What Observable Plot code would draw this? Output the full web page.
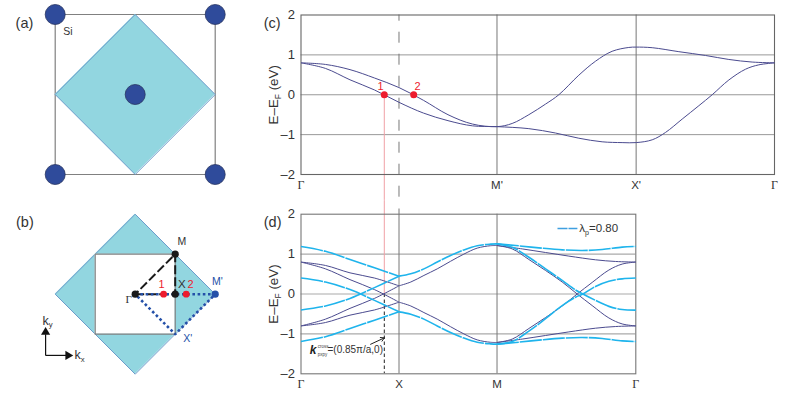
<!DOCTYPE html>
<html>
<head>
<meta charset="utf-8">
<script src="https://cdn.jsdelivr.net/npm/d3@7"></script>
<script src="https://cdn.jsdelivr.net/npm/@observablehq/plot@0.6"></script>
<style>
body{margin:0;background:#fff}
#root{position:relative;width:797px;height:399px;overflow:hidden}
#root svg{position:absolute}
</style>
</head>
<body>
<div id="root"></div>
<script>
const FONT = "Liberation Sans";
const PURPLE = "#4b4b8f", CYAN = "#1fb4ec", RED = "#ed1c2e", TEAL = "#92d6e0", NAVY = "#2f4b9b", EDGE = "#6c9ccb", GRAY = "#808080";

// (a), (b) lattice geometry, in lattice units
const cellX = [-2, 2, 2, -2, -2];
const cellY = [2, 2, -2, -2, 2];
const diamondX = [0, 2, 0, -2, 0];
const diamondY = [2, 0, -2, 0, 2];
const diamondSpanX = [-2, 0, 2];
const atomX = [-2, 2, -2, 2, 0];
const atomY = [2, 2, -2, -2, 0];
const innerX = [-1, 1, 1, -1, -1];
const innerY = [1, 1, -1, -1, 1];
const pathBlackX = [0, 1, 1, 0];
const pathBlackY = [0, 0, 1, 0];
const pathBlueX = [0, 2, 1, 0];
const pathBlueY = [0, 0, -1, 0];
const symX = [0, 1, 1];
const symY = [0, 0, 1];
const redDotX = [0.71, 1.275];

// (c) band values along Γ–M'–X'–Γ
const cTicks = [0, 2, 3.42, 4.832];
const cLabels = ["Γ", "M'", "X'", "Γ"];
const cUpperK = [0, .25, .5, .75, 1, 1.25, 1.5, 1.75, 2, 2.155, 2.325, 2.495, 2.631, 2.835, 3.005, 3.175, 3.345, 3.42, 3.584, 3.856, 4.128, 4.366, 4.604, 4.832];
const cUpperE = [.8, .76, .63, .42, .18, -.14, -.5, -.735, -.8, -.72, -.5, -.235, 0, .49, .84, 1.09, 1.186, 1.195, 1.18, 1.08, .985, .885, .82, .8];
const cLowerK = [0, .25, .5, .75, 1, 1.25, 1.5, 1.75, 2, 2.325, 2.597, 2.835, 3.073, 3.277, 3.42, 3.584, 3.72, 3.89, 4.06, 4.196, 4.366, 4.536, 4.672, 4.832];
const cLowerE = [.8, .66, .375, .12, -.19, -.46, -.65, -.78, -.8, -.85, -.96, -1.09, -1.18, -1.2, -1.2, -1.13, -.945, -.61, -.275, 0, .37, .64, .75, .8];

// (d) band values along Γ–X–M–Γ
const dTicks = [0, 1, 2, 3.416];
const dLabels = ["Γ", "X", "M", "Γ"];
const kGX = [0, .25, .5, .75, 1];
const p1GX = [.8, .715, .53, .4, .205];
const p2GX = [.8, .63, .36, .11, -.205];
const p3GX = [-.8, -.63, -.36, -.11, .205];
const p4GX = [-.8, -.715, -.53, -.4, -.205];
const b1GX = [1.19, 1.07, .865, .655, .447];
const b2GX = [.4, .3, .11, -.16, -.447];
const b3GX = [-.4, -.3, -.11, .16, .447];
const b4GX = [-1.19, -1.07, -.865, -.655, -.447];
const kXM = [1, 1.12, 1.254, 1.39, 1.526, 1.662, 1.798, 1.934, 2];
const pUpXM = [.205, .3, .465, .63, .82, 1, 1.15, 1.21, 1.215];
const pDnXM = [-.205, -.3, -.465, -.63, -.82, -1, -1.15, -1.21, -1.215];
const bUpXM = [.447, .505, .63, .8, .965, 1.105, 1.21, 1.25, 1.257];
const bDnXM = [-.447, -.505, -.63, -.8, -.965, -1.105, -1.21, -1.25, -1.257];
const kMGp = [2, 2.257, 2.495, 2.733, 3.005, 3.21, 3.416];
const pTopMG = [1.215, 1.13, 1.04, .95, .857, .815, .8];
const pBotMG = [-1.215, -1.13, -1.04, -.95, -.857, -.815, -.8];
const kMGd = [2, 2.155, 2.325, 2.495, 2.665, 2.818, 2.971, 3.141, 3.277, 3.416];
const pDescMG = [1.215, 1.13, .865, .59, .3, 0, -.29, -.6, -.75, -.8];
const pAscMG = [-1.215, -1.13, -.865, -.59, -.3, 0, .29, .6, .75, .8];
const kMGb = [2, 2.19, 2.427, 2.665, 2.869, 3.073, 3.277, 3.416];
const bTopMG = [1.257, 1.215, 1.157, 1.107, 1.09, 1.115, 1.175, 1.19];
const bBotMG = [-1.257, -1.215, -1.157, -1.107, -1.09, -1.115, -1.175, -1.19];
const kMGc = [2, 2.155, 2.325, 2.495, 2.665, 2.801, 2.876, 3.005, 3.141, 3.277, 3.416];
const bDescMG = [1.257, 1.17, .92, .63, .34, .1, 0, -.16, -.31, -.39, -.405];
const bAscMG = [-1.257, -1.19, -.93, -.62, -.29, -.08, 0, .19, .32, .38, .4];

const zip = (xs, ys) => xs.map((x, i) => ({x, y: ys[i]}));
const band = (xs, ys, o) => Plot.line(zip(xs, ys), {x: "x", y: "y", curve: "catmull-rom", strokeLinecap: "butt", ...o});
const label = (x, y, text, o = {}) => Plot.text([{x, y, text}], {x: "x", y: "y", text: "text", textAnchor: "start", fontSize: 11.5, ...o});
const poly = (xs, ys, o) => Plot.line(zip(xs, ys), {x: "x", y: "y", curve: "linear", strokeLinecap: "butt", ...o});

// turn k_{x} into real sub-scripted tspans
function subs(svg) {
  svg.querySelectorAll("text").forEach(t => {
    const s = t.textContent;
    if (!s.includes("_{")) return;
    const parts = s.split(/(_\{[^}]*\})/);
    t.textContent = "";
    let after = false;
    parts.forEach(p => {
      const m = p.match(/^_\{(.*)\}$/);
      const span = document.createElementNS("http://www.w3.org/2000/svg", "tspan");
      if (m) {
        span.textContent = m[1];
        span.setAttribute("font-size", "0.62em");
        span.setAttribute("dy", "0.35em");
        t.appendChild(span);
        after = true;
      } else if (p) {
        span.textContent = p;
        if (after) span.setAttribute("dy", "-0.22em");
        t.appendChild(span);
      }
    });
  });
}

function place(plot, left, top) {
  plot.style.left = left + "px";
  plot.style.top = top + "px";
  subs(plot);
  document.getElementById("root").appendChild(plot);
}

const style = {background: "transparent", overflow: "visible", fontFamily: FONT};
const latticeBase = {
  width: 260, height: 200, margin: 0, style,
  x: {axis: null, domain: [-134.7 / 40, 125.3 / 40]}
};
const diamondFill = Plot.areaY(zip(diamondSpanX, [0, 0, 0]), {x: "x", y1: d => 2 - Math.abs(d.x), y2: d => Math.abs(d.x) - 2, fill: TEAL});

// (a)
place(Plot.plot({
  ...latticeBase,
  y: {axis: null, domain: [-106 / 40, 94 / 40]},
  marks: [
    poly(cellX, cellY, {stroke: GRAY, strokeWidth: 1.2}),
    diamondFill,
    poly(diamondX, diamondY, {stroke: EDGE, strokeWidth: 1}),
    Plot.dot(zip(atomX, atomY), {x: "x", y: "y", r: 10, fill: NAVY, stroke: "#27345f", strokeWidth: 0.8}),
    label(-1.8, 1.56, "Si", {fontSize: 10.5, fill: "#333"}),
    label(-2.99, 1.78, "(a)", {fontSize: 14.5, fill: "#333"})
  ]
}), 0, 0);

// (b)
place(Plot.plot({
  ...latticeBase,
  y: {axis: null, domain: [-106.3 / 40, 93.7 / 40]},
  marks: [
    diamondFill,
    poly(diamondX, diamondY, {stroke: EDGE, strokeWidth: 1}),
    Plot.areaY(zip([-1, 1], [0, 0]), {x: "x", y1: () => 1, y2: () => -1, fill: "white"}),
    poly(innerX, innerY, {stroke: GRAY, strokeWidth: 1.2}),
    poly(pathBlackX, pathBlackY, {stroke: "#1a1a1a", strokeWidth: 2, strokeDasharray: "9 3"}),
    poly(pathBlueX, pathBlueY, {stroke: "#2450a8", strokeWidth: 2.6, strokeDasharray: "2.6 2.6"}),
    Plot.dot(zip(symX, symY), {x: "x", y: "y", r: 3.6, fill: "#1a1a1a"}),
    Plot.dot(zip([2], [0]), {x: "x", y: "y", r: 3.6, fill: "#2450a8"}),
    Plot.dot(zip(redDotX, [0, 0]), {x: "x", y: "y", r: 3.4, fill: RED}),
    label(1.06, 1.32, "M", {fontSize: 10.5, fill: "#333"}),
    label(1.07, .235, "X", {fontSize: 11.5, fill: "#333"}),
    label(.58, .24, "1", {fontSize: 11, fill: RED}),
    label(1.31, .24, "2", {fontSize: 11, fill: RED}),
    label(1.92, .325, "M'", {fontSize: 10.5, fill: "#2450a8"}),
    label(1.2, -1.115, "X'", {fontSize: 10.5, fill: "#2450a8"}),
    label(-.24, -.14, "Γ", {fontSize: 11, fill: "#333", fontFamily: "Liberation Serif"}),
    poly([-2.24, -2.24], [-1.53, -1], {stroke: "#111", strokeWidth: 1.2}),
    poly([-2.24, -1.72], [-1.53, -1.53], {stroke: "#111", strokeWidth: 1.2}),
    Plot.dot([{x: -2.24, y: -.95}], {x: "x", y: "y", symbol: "triangle", r: 3.4, fill: "#111"}),
    Plot.dot([{x: -1.68, y: -1.53}], {x: "x", y: "y", symbol: "triangle", r: 3.4, fill: "#111", rotate: 90}),
    label(-2.32, -.66, "k_{y}", {fontSize: 12.5, fill: "#333"}),
    label(-1.52, -1.53, "k_{x}", {fontSize: 12.5, fill: "#333"}),
    label(-2.98, 1.8, "(b)", {fontSize: 14.5, fill: "#333"})
  ]
}), 0, 200);

function bandAxes(ticks, labels, end, name) {
  const text = new Map(ticks.map((t, i) => [t, labels[i]]));
  return [
    Plot.axisY({ticks: [-2, -1, 0, 1, 2], tickSize: 0, tickPadding: 6, fontSize: 13, label: null, tickFormat: d => d < 0 ? "–" + (-d) : d, fill: "#333"}),
    Plot.axisX({ticks: ticks.filter(t => text.get(t) !== "Γ"), tickSize: 0, tickPadding: 6, fontSize: 11.5, label: null, tickFormat: t => text.get(t), fill: "#333"}),
    Plot.axisX({ticks: [ticks[0], end], tickSize: 0, tickPadding: 6, fontSize: 12, label: null, tickFormat: t => "Γ", fill: "#333", fontFamily: "Liberation Serif"}),
    label(-.28, 0, "E–E_{F} (eV)", {fontSize: 13.4, rotate: -90, textAnchor: "middle", fill: "#333"}),
    label(-.38, 1.8, name, {fontSize: 14.5, fill: "#333"})
  ];
}

// (c)
place(Plot.plot({
  width: 537, height: 200, marginLeft: 40.5, marginRight: 23, marginTop: 14.5, marginBottom: 26, style,
  x: {domain: [0, 4.832]},
  y: {domain: [-2, 2]},
  marks: [
    Plot.ruleY([-1, 0, 1], {stroke: "#999", strokeWidth: 1}),
    Plot.ruleX([2, 3.42], {stroke: "#777", strokeWidth: 1}),
    Plot.ruleX([1], {y1: 2, y2: -2.6, stroke: "#777", strokeWidth: 1, strokeDasharray: "11 11", strokeDashoffset: 4.8}),
    Plot.ruleX([.85], {y1: 0, y2: -2.65, stroke: "#f0a0a5", strokeWidth: 1}),
    Plot.frame({stroke: "#666", strokeWidth: 1.1}),
    band(cUpperK, cUpperE, {stroke: PURPLE, strokeWidth: 1}),
    band(cLowerK, cLowerE, {stroke: PURPLE, strokeWidth: 1}),
    Plot.dot(zip([.85, 1.15], [0, 0]), {x: "x", y: "y", r: 3.5, fill: RED}),
    label(.78, .21, "1", {fontSize: 11, fill: RED}),
    label(1.158, .21, "2", {fontSize: 11, fill: RED}),
    ...bandAxes(cTicks, cLabels, 4.832, "(c)")
  ]
}), 260, 0);

// (d)
const solid = {stroke: PURPLE, strokeWidth: 1};
const cyan = {stroke: CYAN, strokeWidth: 1.6, strokeDasharray: "22 1"};
place(Plot.plot({
  width: 537, height: 199, marginLeft: 40.5, marginRight: 161.7, marginTop: 13.7, marginBottom: 25.7, style,
  x: {domain: [0, 3.416]},
  y: {domain: [-2, 2]},
  marks: [
    Plot.ruleY([-1, 0, 1], {stroke: "#aaa", strokeWidth: 1.2}),
    Plot.ruleX([2], {stroke: "#777", strokeWidth: 1}),
    Plot.ruleX([1], {y1: 2.13, y2: -2, stroke: "#777", strokeWidth: 1}),
    Plot.ruleX([.85], {y1: 2.34, y2: 0, stroke: "#f0a0a5", strokeWidth: 1}),
    Plot.ruleX([.85], {y1: 0, y2: -2, stroke: "#222", strokeWidth: 1, strokeDasharray: "3.5 2.5"}),
    Plot.frame({stroke: "#777", strokeWidth: 1.1}),
    band(kGX, p1GX, solid), band(kGX, p2GX, solid), band(kGX, p3GX, solid), band(kGX, p4GX, solid),
    band(kXM, pUpXM, solid), band(kXM, pDnXM, solid),
    band(kMGp, pTopMG, solid), band(kMGp, pBotMG, solid),
    band(kMGd, pDescMG, solid), band(kMGd, pAscMG, solid),
    band(kGX, b1GX, cyan), band(kGX, b2GX, cyan), band(kGX, b3GX, cyan), band(kGX, b4GX, cyan),
    band(kXM, bUpXM, cyan), band(kXM, bDnXM, cyan),
    band(kMGb, bTopMG, cyan), band(kMGb, bBotMG, cyan),
    band(kMGc, bDescMG, cyan), band(kMGc, bAscMG, cyan),
    Plot.arrow([{x1: .71, y1: -1.26, x2: .85, y2: -1.1}], {x1: "x1", y1: "y1", x2: "x2", y2: "y2", stroke: "#222", strokeWidth: 1, headLength: 6}),
    label(.09, -1.41, "k", {fontSize: 12, fontWeight: "bold", fontStyle: "italic", fill: "#222"}),
    label(.17, -1.31, "cross", {fontSize: 4.5, fill: "#444"}),
    label(.17, -1.51, "pxpy", {fontSize: 4.5, fill: "#444"}),
    label(.27, -1.41, "=(0.85π/a,0)", {fontSize: 10, fill: "#333"}),
    Plot.line(zip([2.617, 2.82], [1.64, 1.64]), {x: "x", y: "y", stroke: "#3f9fe0", strokeWidth: 1.6, strokeDasharray: "10 1", strokeLinecap: "butt"}),
    label(2.84, 1.64, "λ_{p}=0.80", {fontSize: 11.5, fill: "#333"}),
    ...bandAxes(dTicks, dLabels, 3.416, "(d)")
  ]
}), 260, 200);
</script>
</body>
</html>
